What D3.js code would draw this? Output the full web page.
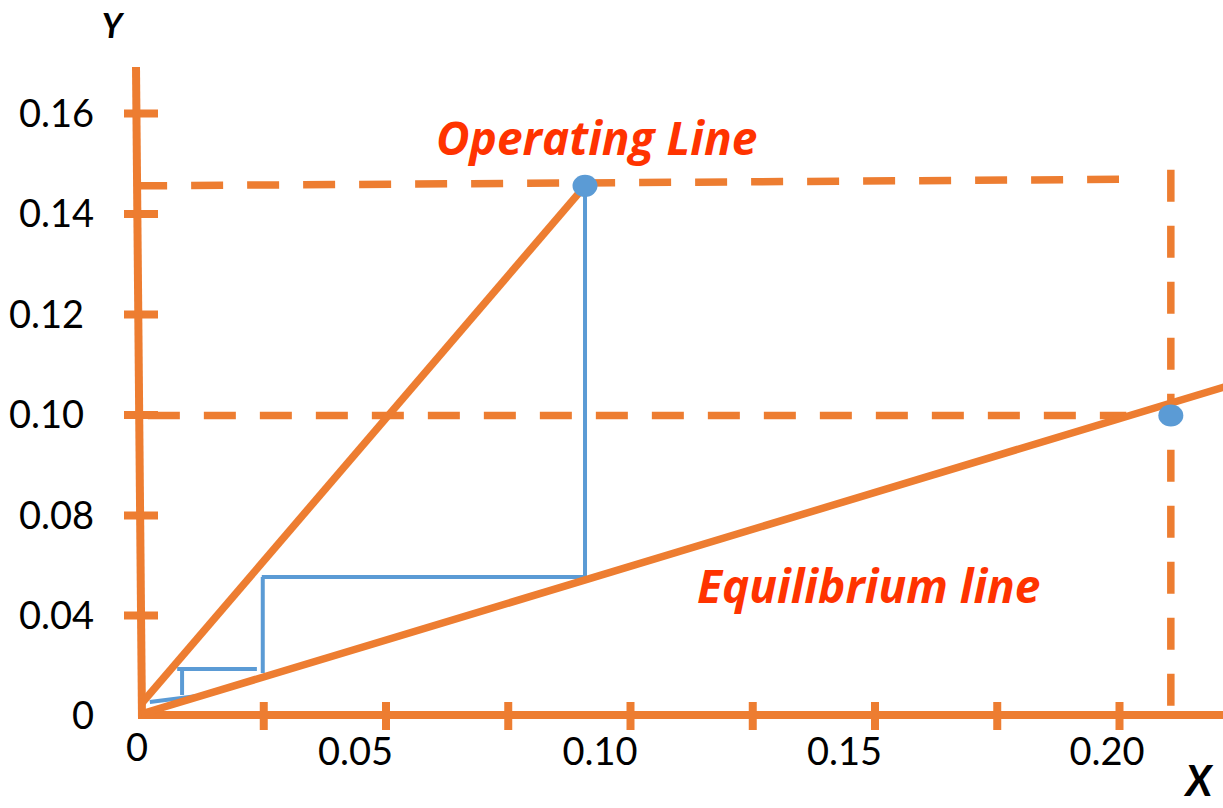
<!DOCTYPE html>
<html>
<head>
<meta charset="utf-8">
<script src="https://cdn.jsdelivr.net/npm/d3@7"></script>
<style>
  html, body { margin: 0; padding: 0; background: #ffffff; }
  svg { display: block; font-family: Lato, "Open Sans", sans-serif; }
</style>
</head>
<body>
<svg id="chart" width="1223" height="808"></svg>
<script>
// ---- data ----
const xTickValues = [0.025, 0.05, 0.075, 0.10, 0.125, 0.15, 0.175, 0.20];
const xLabelValues = [0, 0.05, 0.10, 0.15, 0.20];
const xLabels = ["0", "0.05", "0.10", "0.15", "0.20"];

const yTickValues = [0.16, 0.14, 0.12, 0.10, 0.08, 0.04];
const yLabelValues = [0.16, 0.14, 0.12, 0.10, 0.08, 0.04, 0];
const yLabels = ["0.16", "0.14", "0.12", "0.10", "0.08", "0.04", "0"];

// operating line (x, y)
const operatingLine = [[0.0002, 0.0048], [0.0908, 0.1455]];
// equilibrium line (x, y)
const equilibriumLine = [[0.0, 0.0004], [0.2240, 0.1062]];
// end points of the column (x, y)
const endPoints = [[0.0908, 0.1455], [0.2106, 0.0998]];
// stage stepping between the two lines: [x1, y1, x2, y2]
const stageSteps = [
  [0.0908, 0.1455, 0.0908, 0.0552],
  [0.0908, 0.0552, 0.0247, 0.0552],
  [0.0249, 0.0552, 0.0249, 0.0168],
  [0.0237, 0.0184, 0.0074, 0.0184],
  [0.0084, 0.0184, 0.0084, 0.0080],
  [0.0018, 0.0052, 0.0115, 0.0076]
];
// dashed guide lines: [x1, y1, x2, y2]
const guideLines = [
  [-0.0012, 0.1455, 0.2000, 0.1468],
  [0.0014, 0.0998, 0.2015, 0.0998],
  [0.2106, 0.1487, 0.2106, 0.0]
];

// ---- layout / style ----
const W = 1223, H = 808;
const ORANGE = "#ED7D31", BLUE = "#5B9BD5", RED = "#FF3300";
const xLabelShift = [-4, -30, -30, -30, -12];
const yLabelShift = [0, 0, -10, -10, 0, 0, 0];

const svg = d3.select("#chart");
svg.append("rect").attr("width", W).attr("height", H).attr("fill", "#fff");

const x = d3.scaleLinear().domain([0, 0.2]).range([141, 1119]);
// the vertical axis is spaced unevenly between its labels
const y = d3.scaleLinear().domain([0, 0.04, 0.08, 0.16]).range([715, 615, 515, 113]);

const line = d3.line().x(d => x(d[0])).y(d => y(d[1]));

// ---- dashed guides ----
svg.append("g").selectAll("line").data(guideLines).join("line")
  .attr("x1", d => x(d[0])).attr("y1", d => y(d[1]))
  .attr("x2", d => x(d[2])).attr("y2", d => y(d[3]))
  .attr("stroke", ORANGE).attr("stroke-width", 7.5)
  .attr("stroke-dasharray", "32 24");

// ---- axes ----
// x axis ticks
const xAxis = d3.axisBottom(x).tickValues(xTickValues).tickSize(28).tickFormat("");
const gx = svg.append("g").attr("transform", `translate(0,${y(0) - 13})`).call(xAxis);
gx.select(".domain").remove();
gx.selectAll(".tick line").attr("stroke", ORANGE).attr("stroke-width", 8);

// y axis ticks
const yAxis = d3.axisLeft(y).tickValues(yTickValues).tickSize(34).tickFormat("");
const gy = svg.append("g").attr("transform", `translate(${x(0) + 17},0)`).call(yAxis);
gy.select(".domain").remove();
gy.selectAll(".tick line").attr("stroke", ORANGE).attr("stroke-width", 8);

// axis lines
svg.append("line")
  .attr("x1", x(0) - 5).attr("y1", 67)
  .attr("x2", x(0) + 1).attr("y2", y(0) + 4)
  .attr("stroke", ORANGE).attr("stroke-width", 8);
svg.append("line")
  .attr("x1", x(0) - 3).attr("y1", y(0))
  .attr("x2", W).attr("y2", y(0))
  .attr("stroke", ORANGE).attr("stroke-width", 8);

// tick labels
svg.append("g").selectAll("text").data(xLabelValues).join("text")
  .attr("x", (d, i) => x(d) + xLabelShift[i])
  .attr("y", (d, i) => i === 0 ? 747 : 751)
  .attr("dy", "0.36em")
  .attr("text-anchor", "middle")
  .attr("font-size", 38).attr("fill", "#000")
  .text((d, i) => xLabels[i]);

svg.append("g").selectAll("text").data(yLabelValues).join("text")
  .attr("x", (d, i) => 94 + yLabelShift[i])
  .attr("y", d => y(d))
  .attr("dy", "0.36em")
  .attr("text-anchor", "end")
  .attr("font-size", 38).attr("fill", "#000")
  .text((d, i) => yLabels[i]);

// axis titles
svg.append("text").attr("x", 112).attr("y", 26).attr("dy", "0.36em")
  .attr("text-anchor", "middle").attr("font-size", 34)
  .attr("font-weight", "bold").attr("font-style", "italic").attr("fill", "#000")
  .text("Y");
svg.append("text").attr("x", 1212).attr("y", 796)
  .attr("text-anchor", "end").attr("font-size", 42)
  .attr("font-weight", "bold").attr("font-style", "italic").attr("fill", "#000")
  .text("X");

// ---- stage steps ----
svg.append("g").selectAll("line").data(stageSteps).join("line")
  .attr("x1", d => x(d[0])).attr("y1", d => y(d[1]))
  .attr("x2", d => x(d[2])).attr("y2", d => y(d[3]))
  .attr("stroke", BLUE).attr("stroke-width", 4);

// ---- operating and equilibrium lines ----
svg.append("path").datum(operatingLine).attr("d", line)
  .attr("fill", "none").attr("stroke", ORANGE).attr("stroke-width", 7.5);
svg.append("path").datum(equilibriumLine).attr("d", line)
  .attr("fill", "none").attr("stroke", ORANGE).attr("stroke-width", 7.5);

// ---- end points ----
svg.append("g").selectAll("ellipse").data(endPoints).join("ellipse")
  .attr("cx", d => x(d[0])).attr("cy", d => y(d[1]))
  .attr("rx", 12.5).attr("ry", 11)
  .attr("fill", BLUE);

// ---- line labels ----
svg.append("text").attr("x", 436).attr("y", 155)
  .attr("font-family", "'Open Sans', Lato, sans-serif")
  .attr("font-size", 46).attr("font-weight", "bold").attr("font-style", "italic")
  .attr("fill", RED).text("Operating Line");
svg.append("text").attr("x", 697).attr("y", 603)
  .attr("font-family", "'Open Sans', Lato, sans-serif")
  .attr("font-size", 46).attr("font-weight", "bold").attr("font-style", "italic")
  .attr("fill", RED).text("Equilibrium line");
</script>
</body>
</html>
